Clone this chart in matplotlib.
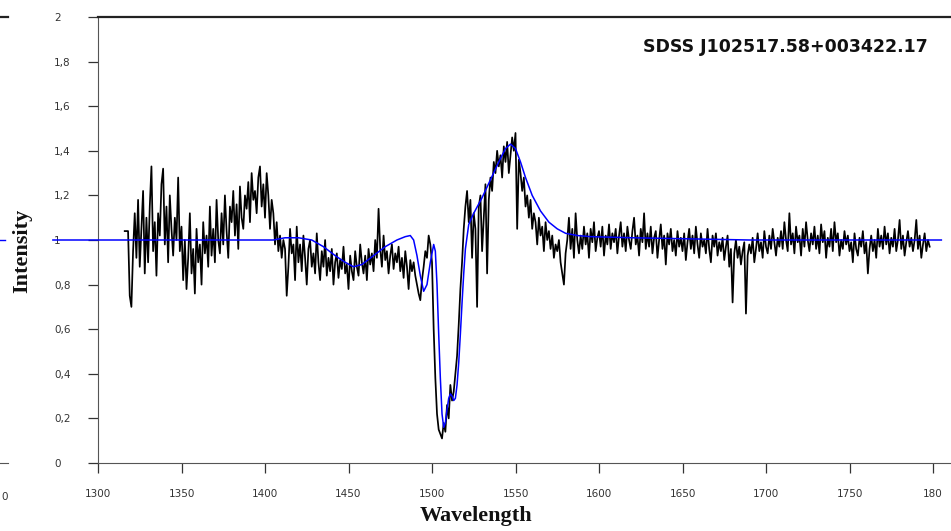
import numpy as np
import matplotlib
matplotlib.use("Agg")
import matplotlib.pyplot as plt

# ---------------- data ----------------
wave_start = 1316  # first sample (Angstrom), 1 A per sample
flux = [
    1.04, 1.04, 1.04, 0.75, 0.70, 0.95, 1.12, 0.92, 1.18, 0.88, 1.05, 1.22, 0.85,
    1.10, 0.90, 1.15, 1.33, 0.95, 1.08, 0.84, 1.12, 1.02, 1.25, 1.32, 0.98, 1.15, 0.90, 1.20, 1.05, 0.93, 1.10, 1.00, 1.28,
    0.95, 1.06, 0.82, 1.00, 0.78, 0.92, 1.12, 0.85, 0.96, 0.76, 1.05, 0.90, 0.98, 0.80, 1.08, 0.94, 1.02, 0.88, 1.15, 0.93,
    1.05, 0.90, 1.18, 1.00, 0.94, 1.12, 0.98, 1.20, 1.04, 0.92, 1.15, 1.08, 1.22, 1.02, 1.16, 0.96, 1.24, 1.10, 1.05, 1.20,
    1.14, 1.26, 1.08, 1.30, 1.18, 1.22, 1.12, 1.28, 1.33, 1.15, 1.25, 1.10, 1.30, 1.20, 1.05, 1.18, 1.12, 0.98, 1.08, 0.95,
    1.02, 0.92, 1.00, 0.96, 0.75, 0.88, 1.05, 0.94, 0.98, 0.82, 1.06, 0.90, 0.98, 0.86, 1.02, 0.92, 0.80, 0.96, 1.00, 0.88,
    0.94, 0.85, 1.03, 0.90, 0.82, 0.95, 0.88, 1.00, 0.84, 0.92, 0.86, 0.96, 0.80, 0.90, 0.94, 0.83, 0.91, 0.87, 0.97, 0.85,
    0.89, 0.78, 0.93, 0.86, 0.82, 0.95, 0.88, 0.84, 0.98, 0.90, 0.85, 0.93, 0.82, 0.96, 0.89, 0.94, 0.86, 1.00, 0.92, 1.14,
    0.96, 0.88, 1.02, 0.91, 0.95, 0.85, 0.93, 0.98, 0.87, 0.94, 0.90, 0.97, 0.86, 0.92, 0.83, 0.95, 0.88, 0.78, 0.91, 0.86,
    0.90, 0.84, 0.80, 0.76, 0.73, 0.82, 0.88, 0.95, 0.92, 1.02, 0.98, 0.90, 0.60, 0.38, 0.22, 0.15, 0.13, 0.11, 0.18, 0.14,
    0.26, 0.20, 0.35, 0.28, 0.32, 0.40, 0.48, 0.62, 0.78, 0.90, 1.05, 1.15, 1.22, 1.08, 1.18, 0.92, 1.12, 1.05, 0.70, 1.15,
    1.20, 0.95, 1.10, 1.25, 0.85, 1.18, 1.28, 1.22, 1.35, 1.30, 1.40, 1.33, 1.38, 1.28, 1.42, 1.35, 1.44, 1.30, 1.38, 1.46,
    1.40, 1.48, 1.05, 1.36, 1.30, 1.22, 1.28, 1.15, 1.20, 1.10, 1.18, 1.05, 1.12, 1.08, 0.98, 1.10, 1.02, 1.06, 0.95, 1.08,
    1.00, 1.04, 0.96, 1.02, 0.92, 0.98, 0.95, 1.00, 0.90, 0.85, 0.80, 0.94, 1.00, 1.10, 0.96, 1.05, 0.92, 1.12, 1.00, 0.94,
    1.02, 0.96, 1.06, 0.98, 1.03, 0.92, 1.05, 0.99, 1.08, 0.95, 1.01, 1.04, 0.97, 1.06, 0.93, 1.02, 0.98, 1.07, 0.96, 1.03,
    0.99, 1.05, 0.94, 1.02, 1.08, 0.97, 1.03, 0.95, 1.06, 1.00, 0.96, 1.04, 1.10, 0.98, 1.02, 0.93, 1.05, 0.99, 1.12, 0.96,
    1.03, 0.97, 1.06, 0.94, 1.01, 1.04, 0.92, 1.00, 1.07, 0.96, 1.02, 0.89, 1.03, 0.98, 1.05, 0.95, 1.00, 0.93, 1.04, 0.97,
    1.01, 0.95, 1.03, 0.91, 0.99, 1.05, 0.96, 1.02, 0.94, 1.06, 0.98, 0.92, 1.03, 0.97, 1.00, 0.94, 1.05, 0.96, 0.90, 1.02,
    0.97, 1.03, 0.93, 0.99, 0.95, 1.01, 0.91, 0.97, 1.02, 0.88, 0.96, 0.72, 0.94, 1.00, 0.92, 0.97, 0.89, 0.95, 0.99, 0.67,
    0.93, 0.98, 0.94, 1.01, 0.90, 0.96, 1.03, 0.95, 0.99, 0.92, 1.04, 0.97, 0.94, 1.02, 0.96, 1.05, 0.99, 0.93, 1.01, 0.97,
    1.04, 0.96, 1.08, 1.00, 0.95, 1.12, 0.98, 1.03, 0.94, 1.06, 0.99, 1.02, 0.93, 1.05, 0.97, 1.08, 1.00, 0.95, 1.03, 0.98,
    1.06, 0.96, 1.02, 0.94, 1.07, 0.99, 1.04, 0.92, 1.01, 0.97, 1.05, 0.95, 1.08, 0.99, 1.03, 0.93, 1.00, 0.96, 1.04, 0.98,
    1.02, 0.95, 0.99, 0.90, 1.03, 0.96, 0.93, 1.01, 0.97, 1.04, 0.94, 0.99, 0.85, 0.96, 1.02, 0.95, 1.00, 0.92, 1.05, 0.97,
    1.02, 0.96, 1.06, 0.98, 1.03, 0.94, 1.01, 0.97, 1.05, 0.95, 1.00, 1.09, 0.96, 1.02, 0.93, 0.99, 1.04, 0.97, 1.01, 0.95,
    1.00, 1.09, 0.96, 1.02, 0.92, 0.98, 1.03, 0.95, 1.00, 0.97,
]

model_wave = [1273, 1405, 1412, 1420, 1428, 1435, 1442, 1448, 1453, 1458,
              1465, 1472, 1479, 1484, 1487, 1489, 1491, 1493, 1495, 1497,
              1499, 1501, 1502, 1503, 1504, 1505, 1506, 1507, 1508, 1509,
              1510, 1511, 1512, 1513, 1514, 1515, 1516, 1517, 1518, 1519,
              1520, 1522, 1525, 1530, 1535, 1540, 1544, 1547, 1550, 1553,
              1556, 1560, 1565, 1570, 1575, 1580, 1587, 1595, 1620, 1690, 1805]
model_flux = [1.00, 1.00, 1.01, 1.01, 1.00, 0.97, 0.93, 0.90, 0.88, 0.89,
              0.93, 0.97, 1.00, 1.015, 1.02, 1.00, 0.93, 0.84, 0.77, 0.80,
              0.90, 0.98, 0.95, 0.80, 0.58, 0.38, 0.22, 0.16, 0.18, 0.24,
              0.29, 0.31, 0.30, 0.28, 0.29, 0.35, 0.45, 0.58, 0.72, 0.85,
              0.96, 1.07, 1.12, 1.19, 1.27, 1.35, 1.41, 1.43, 1.41, 1.35,
              1.28, 1.20, 1.13, 1.08, 1.05, 1.03, 1.02, 1.015, 1.01, 1.00, 1.00]

x_ticks = [1300, 1350, 1400, 1450, 1500, 1550, 1600, 1650, 1700, 1750, 1800]
x_tick_labels = ["1300", "1350", "1400", "1450", "1500", "1550", "1600",
                 "1650", "1700", "1750", "180"]
y_ticks = [0, 0.2, 0.4, 0.6, 0.8, 1.0, 1.2, 1.4, 1.6, 1.8, 2.0]
y_tick_labels = ["0", "0,2", "0,4", "0,6", "0,8", "1", "1,2", "1,4", "1,6", "1,8", "2"]
title = "SDSS J102517.58+003422.17"
fragment_label = "0"   # visible remnant of the cropped neighbouring panel's last x label

wave = wave_start + np.arange(len(flux))

# ---------------- figure ----------------
W, H = 951, 531
fig = plt.figure(figsize=(W / 100, H / 100), dpi=100)

ax_left_px, ax_right_px = 98, 951
ax_top_px, ax_bot_px = 17, 463
axpos = [ax_left_px / W, (H - ax_bot_px) / H,
         (ax_right_px - ax_left_px) / W, (ax_bot_px - ax_top_px) / H]

def style_axes(a):
    a.spines["right"].set_visible(False)
    a.spines["left"].set_color("#555555")
    a.spines["bottom"].set_color("#555555")
    a.spines["top"].set_color("#222222")
    a.spines["top"].set_linewidth(1.6)
    a.tick_params(axis="both", direction="out", length=7.2, width=0.9,
                  color="#333333", labelsize=7.5, labelcolor="#333333")

# neighbouring (cropped) panel fragment on the far left
frag_right = 8
ax0 = fig.add_axes([(frag_right - 853) / W, axpos[1], 853 / W, axpos[3]])
ax0.set_facecolor("none")
style_axes(ax0)
ax0.spines["left"].set_visible(False)
ax0.plot(model_wave, model_flux, color="#0000ff", lw=1.0)
ax0.set_xlim(1300, 1806.6)
ax0.set_ylim(0, 2)
ax0.set_xticks(x_ticks)
ax0.set_xticklabels([])
ax0.set_yticks([])
fig.text(1 / W, (H - 497) / H, fragment_label, ha="left", va="center",
         fontsize=7.5, color="#333333")

# main panel
ax = fig.add_axes(axpos)
ax.set_facecolor("none")
style_axes(ax)
ax.plot(wave, flux, color="black", lw=1.25, zorder=2)
ax.plot(model_wave, model_flux, color="#0000ff", lw=1.1, zorder=3, clip_on=False)
ax.set_xlim(1300, 1300 + (ax_right_px - ax_left_px) / 83.5 * 50)
ax.set_ylim(0, 2)
ax.set_xticks(x_ticks)
ax.set_xticklabels(x_tick_labels)
ax.set_yticks(y_ticks)
ax.set_yticklabels(y_tick_labels, ha="left")
ax.tick_params(axis="x", pad=11.5)
ax.tick_params(axis="y", pad=24.5)

ax.text(928 / W, (H - 47) / H, title, transform=fig.transFigure,
        ha="right", va="center", fontsize=12.5, fontweight="bold",
        family="DejaVu Sans", color="#111111")

fig.text(476 / W, (H - 516) / H, "Wavelength", ha="center", va="center",
         fontsize=16, fontweight="bold", family="Liberation Serif", color="#111111")
fig.text(22 / W, (H - 251) / H, "Intensity", ha="center", va="center",
         rotation=90, fontsize=16, fontweight="bold", family="Liberation Serif",
         color="#111111")

fig.savefig("out.png", dpi=100)
